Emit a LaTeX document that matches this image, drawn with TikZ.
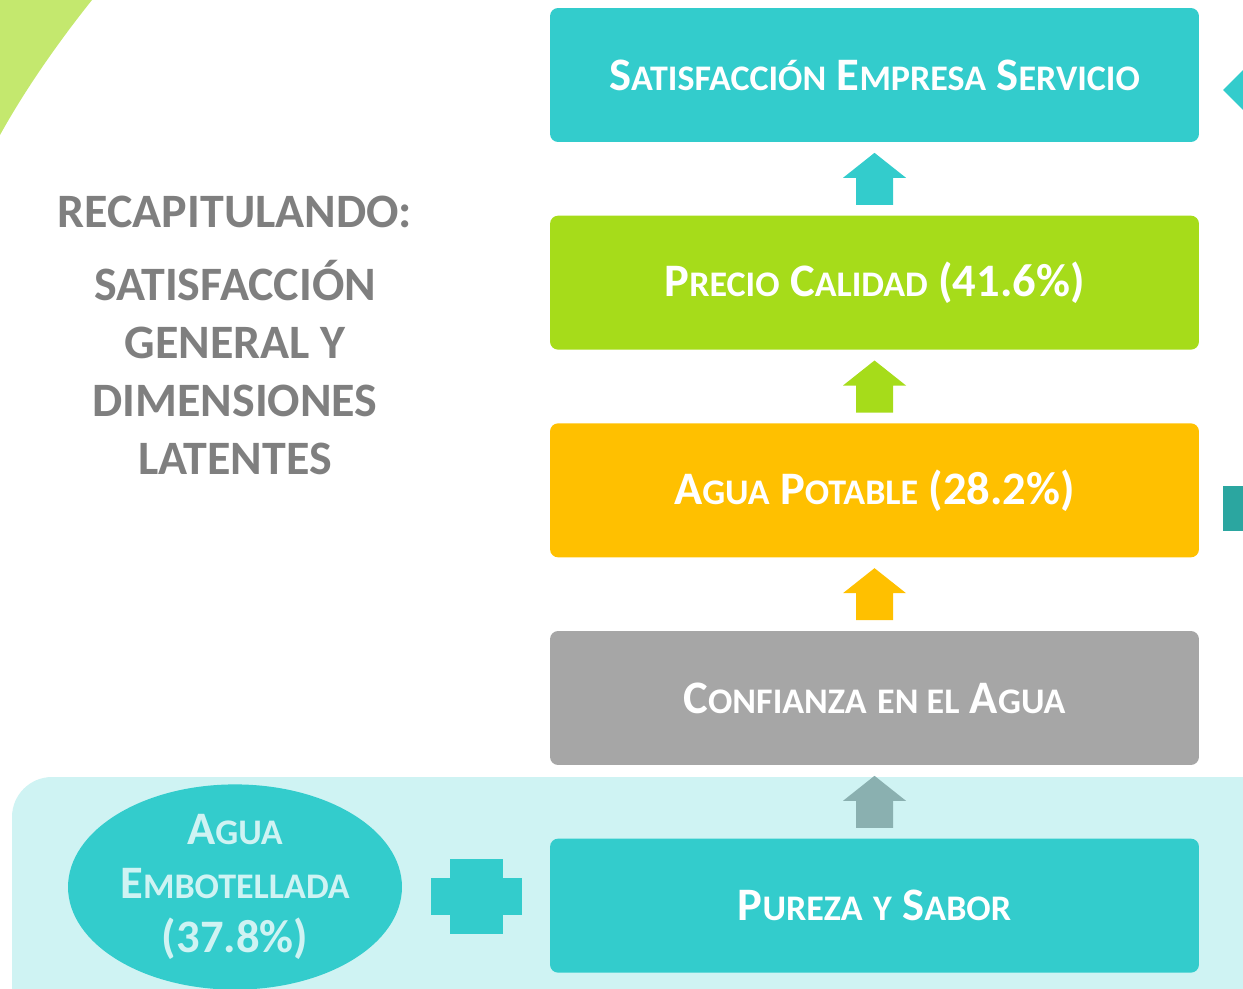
\documentclass[tikz,border=0pt]{standalone}
\usepackage{fontspec}
\setmainfont{Carlito}
\usetikzlibrary{positioning,shapes.geometric}

\definecolor{turq}{HTML}{33CCCC}
\definecolor{lima}{HTML}{A6DC1A}
\definecolor{ambar}{HTML}{FFC000}
\definecolor{gris}{HTML}{A6A6A6}
\definecolor{grisverde}{HTML}{8AB0B0}
\definecolor{banda}{HTML}{CFF3F3}
\definecolor{hoja}{HTML}{C4E86E}
\definecolor{titulo}{HTML}{7F7F7F}
\definecolor{tealosc}{HTML}{2BA6A0}

% falsas versalitas
\newcommand\smc[2]{{\fontsize{26.5}{30}\selectfont #1}{\fontsize{20.5}{24}\selectfont #2}}
\newcommand\sml[1]{{\fontsize{20.5}{24}\selectfont #1}}

\tikzset{
  nivel/.style={rounded corners=0.16cm, minimum width=12.98cm, minimum height=2.68cm,
    inner sep=0pt, text=white, font=\bfseries\fontsize{26.5}{30}\selectfont},
  flecha/.pic={
    \fill[pic actions] (0,-26) -- (31.5,-1) -- (18.5,-1) -- (18.5,26)
      -- (-18.5,26) -- (-18.5,-1) -- (-31.5,-1) -- cycle;
  }
}

\begin{document}
\begin{tikzpicture}[x=0.02cm, y=-0.02cm, node distance=1.46cm]
\clip (0,0) rectangle (1243,988);

% fondo
\fill[hoja] (0,0) -- (92,0) .. controls (60,40) and (26,88) .. (0,135) -- cycle;
\fill[turq] (1223,90) -- (1263,50) -- (1263,130) -- cycle;
\fill[tealosc] (1223,486) rectangle (1250,531);
\fill[banda, rounded corners=0.8cm] (12,777) rectangle (1300,1040);

% niveles
\node[nivel, fill=turq] (b1) at (874.5,75) {\smc{S}{ATISFACCIÓN} \smc{E}{MPRESA} \smc{S}{ERVICIO}};
\node[nivel, fill=lima, below=of b1] (b2) {\smc{P}{RECIO} \smc{C}{ALIDAD} (41.6\%)};
\node[nivel, fill=ambar, below=of b2] (b3) {\smc{A}{GUA} \smc{P}{OTABLE} (28.2\%)};
\node[nivel, fill=gris, below=of b3] (b4) {\smc{C}{ONFIANZA} \sml{EN EL} \smc{A}{GUA}};
\node[nivel, fill=turq, below=of b4] (b5) {\smc{P}{UREZA} \sml{Y} \smc{S}{ABOR}};

% flechas
\path (b1.south) -- (b2.north) coordinate[midway] (m1);
\path (b2.south) -- (b3.north) coordinate[midway] (m2);
\path (b3.south) -- (b4.north) coordinate[midway] (m3);
\path (b4.south) -- (b5.north) coordinate[midway] (m4);
\pic[fill=turq] at (m1) {flecha};
\pic[fill=lima] at (m2) {flecha};
\pic[fill=ambar] at (m3) {flecha};
\pic[fill=grisverde] at (m4) {flecha};

% agua embotellada
\node[ellipse, fill=turq, minimum width=6.68cm, minimum height=3.8cm, inner sep=0pt,
  align=center, text=banda, font=\bfseries\fontsize{26.5}{30.7}\selectfont] (emb) at (235,887)
  {\smc{A}{GUA}\\\smc{E}{MBOTELLADA}\\(37.8\%)};
\path (emb.east) -- (b5.west) coordinate[midway] (mas);
\fill[turq] ([xshift=-26.5*0.02cm, yshift=37.5*0.02cm]mas) rectangle ([xshift=26.5*0.02cm, yshift=-37.5*0.02cm]mas);
\fill[turq] ([xshift=-45.5*0.02cm, yshift=18.5*0.02cm]mas) rectangle ([xshift=45.5*0.02cm, yshift=-18.5*0.02cm]mas);

% titulo
\node[text=titulo, font=\bfseries\fontsize{27.3}{32}\selectfont] (rec) at (235,212) {RECAPITULANDO:};
\node[text=titulo, align=center, font=\bfseries\fontsize{27.3}{33}\selectfont, below=0.4cm of rec] (sat)
  {SATISFACCIÓN\\GENERAL Y\\DIMENSIONES\\LATENTES};
\end{tikzpicture}
\end{document}
